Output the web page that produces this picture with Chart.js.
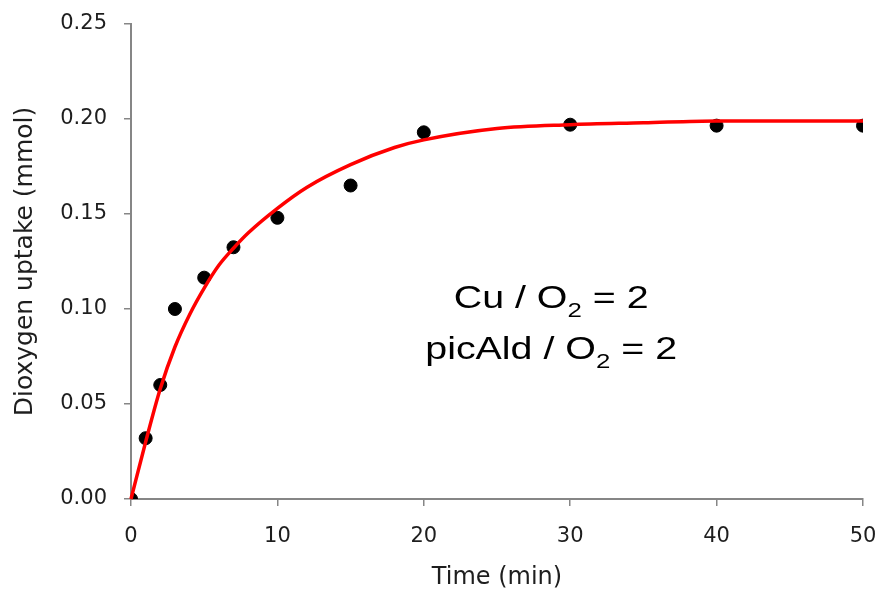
<!DOCTYPE html>
<html>
<head>
<meta charset="utf-8">
<script src="https://cdn.jsdelivr.net/npm/chart.js@4.4.1/dist/chart.umd.min.js"></script>
<style>
  html, body { margin: 0; padding: 0; background: #fff; }
  #wrap { width: 883px; height: 592px; }
</style>
</head>
<body>
<div id="wrap"><canvas id="uptakeChart"></canvas></div>
<script>
// measured points (time in min, O2 uptake in mmol)
const timeMin = [0, 1, 2, 3, 5, 7, 10, 15, 20, 30, 40, 50];
const uptake = [0, 0.032, 0.060, 0.100, 0.1165, 0.1325, 0.148, 0.165, 0.193, 0.197, 0.1965, 0.1965];

// fitted curve
const fitTime = [0, 1, 2, 3, 4, 5, 6, 7, 8, 10, 12, 15, 18, 20, 25, 30, 35, 40, 45, 50, 51.4];
const fitUptake = [0, 0.030, 0.058, 0.080, 0.097, 0.111, 0.123, 0.132, 0.140, 0.153, 0.164, 0.176, 0.185, 0.189, 0.195, 0.197, 0.198, 0.199, 0.199, 0.199, 0.199];

// axis ticks
const xTicks = [0, 10, 20, 30, 40, 50];
const yTicks = [0, 0.05, 0.10, 0.15, 0.20, 0.25];

// label in the plot: [text, subscript, rest], placed at data coords
const noteLines = [
  { x: 28.7, y: 0.1005, parts: ['Cu / O', '2', ' = 2'] },
  { x: 28.7, y: 0.0737, parts: ['picAld / O', '2', ' = 2'] }
];

const axisColor = '#868686';
const textColor = '#1e1e1e';
const tickFont = { family: '"DejaVu Sans", sans-serif', size: 21 };
const titleFont = { family: '"DejaVu Sans", sans-serif', size: 24 };

const notePlugin = {
  id: 'noteText',
  afterDatasetsDraw(chart) {
    const { ctx, scales } = chart;
    const big = '32px "Liberation Sans", Arial, sans-serif';
    const small = '21px "Liberation Sans", Arial, sans-serif';
    const stretch = 1.23; // the reference text is a bit wide
    ctx.save();
    ctx.fillStyle = '#000';
    ctx.textBaseline = 'alphabetic';
    ctx.textAlign = 'left';
    noteLines.forEach(line => {
      ctx.font = big;
      const w1 = ctx.measureText(line.parts[0]).width;
      const w3 = ctx.measureText(line.parts[2]).width;
      ctx.font = small;
      const w2 = ctx.measureText(line.parts[1]).width;
      const cx = scales.x.getPixelForValue(line.x);
      const by = scales.y.getPixelForValue(line.y);
      ctx.save();
      ctx.translate(cx, by);
      ctx.scale(stretch, 1);
      let px = -(w1 + w2 + w3) / 2;
      ctx.font = big;
      ctx.fillText(line.parts[0], px, 0);
      px += w1;
      ctx.font = small;
      ctx.fillText(line.parts[1], px, 9);
      px += w2;
      ctx.font = big;
      ctx.fillText(line.parts[2], px, 0);
      ctx.restore();
    });
    ctx.restore();
  }
};

const ctx = document.getElementById('uptakeChart').getContext('2d');
new Chart(ctx, {
  type: 'scatter',
  data: {
    datasets: [
      {
        label: 'Fit',
        data: fitTime.map((t, i) => ({ x: t, y: fitUptake[i] })),
        showLine: true,
        borderColor: '#ff0000',
        borderWidth: 3.5,
        pointRadius: 0,
        cubicInterpolationMode: 'monotone',
        clip: false
      },
      {
        label: 'Data',
        data: timeMin.map((t, i) => ({ x: t, y: uptake[i] })),
        backgroundColor: '#000',
        borderColor: '#000',
        pointRadius: 6.5,
        showLine: false
      }
    ]
  },
  options: {
    responsive: true,
    maintainAspectRatio: false,
    animation: false,
    layout: { padding: { top: 24, right: 20, left: 0, bottom: 0 } },
    plugins: {
      legend: { display: false },
      tooltip: { enabled: false }
    },
    scales: {
      x: {
        type: 'linear',
        min: 0,
        max: 50,
        afterBuildTicks: s => { s.ticks = xTicks.map(v => ({ value: v })); },
        afterFit: s => { s.height = 93; s.paddingLeft = 0; s.paddingRight = 0; },
        ticks: { font: tickFont, color: textColor, padding: 18, maxRotation: 0 },
        grid: { drawOnChartArea: false, drawTicks: true, tickLength: 7, color: axisColor, lineWidth: 1.5 },
        border: { color: axisColor, width: 2 },
        title: { display: true, text: 'Time (min)', font: titleFont, color: textColor, padding: { top: 8, bottom: 0 } }
      },
      y: {
        min: 0,
        max: 0.25,
        afterBuildTicks: s => { s.ticks = yTicks.map(v => ({ value: v })); },
        afterFit: s => { s.width = 131; s.paddingTop = 0; s.paddingBottom = 0; },
        ticks: { font: tickFont, color: textColor, padding: 17, callback: v => v.toFixed(2) },
        grid: { drawOnChartArea: false, drawTicks: true, tickLength: 7, color: axisColor, lineWidth: 1.5 },
        border: { color: axisColor, width: 2 },
        title: { display: true, text: 'Dioxygen uptake (mmol)', font: { family: '"DejaVu Sans", sans-serif', size: 25 }, color: textColor, padding: { top: 10, bottom: 0 } }
      }
    }
  },
  plugins: [notePlugin]
});
</script>
</body>
</html>
